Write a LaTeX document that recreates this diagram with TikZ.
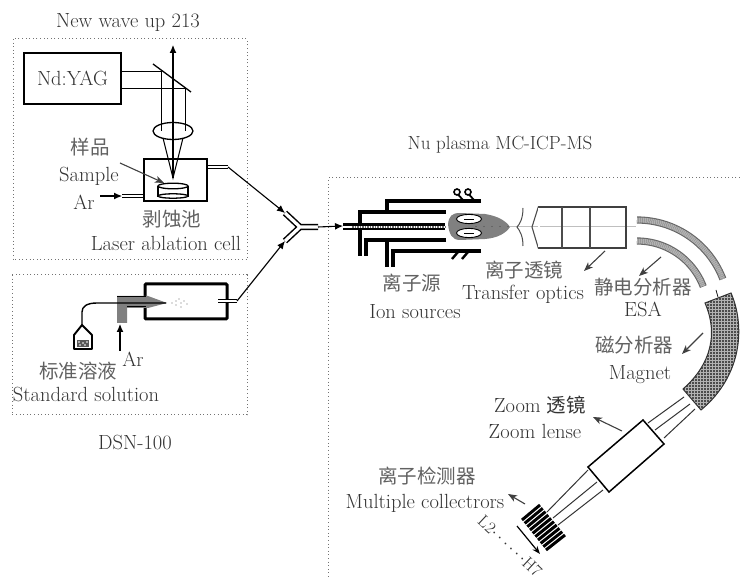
\documentclass[tikz,border=0pt]{standalone}
\usepackage{fontspec}
\newfontfamily\cjk{Noto Sans CJK SC}
\usetikzlibrary{calc,arrows.meta}

\begin{document}
\begin{tikzpicture}[x=1pt,y=-1pt,
    lbl/.style={inner sep=0pt,text=black!80,font=\fontsize{20.5}{22}\selectfont},
    cjklbl/.style={inner sep=0pt,text=black!62,font=\fontsize{19.5}{22}\selectfont\cjk},
    region/.style={draw=black!55,line width=1pt,dash pattern=on 1pt off 2.6pt},
    heavybox/.style={draw,line width=2.8pt,inner sep=0pt},
    pipe/.style={draw,double,line width=1pt,double distance=2.4pt},
    wall/.style={line width=3.8pt},
    beam/.style={line width=1pt},
    ptr/.style={black!75,line width=1.1pt,-{Stealth[length=9pt,width=7pt,inset=2.5pt]}},
    feed/.style={line width=1.1pt,-{Latex[length=8pt,width=7pt]}}]

    \useasboundingbox (0,0) rectangle (740,577);

    %==================== Dotted regions and titles ====================
    \draw[region] (13,39) rectangle (247,260);
    \draw[region] (12,275) rectangle (247,415);
    \draw[region] (740,178) -- (328,178) -- (328,577);

    \node[lbl] (titleup) at (128,23) {New wave up 213};
    \node[lbl] (titledsn) at (135,443) {DSN-100};
    \node[lbl,font=\fontsize{19}{22}\selectfont] (titlenu) at (500,145) {Nu plasma MC-ICP-MS};

    %==================== Laser ablation ====================
    \begin{scope}
      \node[heavybox,minimum width=97pt,minimum height=51pt,font=\fontsize{20.5}{22}\selectfont,text=black!80]
        (yag) at (72.5,78.5) {Nd:YAG};
      \node[heavybox,minimum width=63pt,minimum height=42pt] (cell) at (175.5,180) {};

      % Beam turned down by the mirror
      \coordinate (beamup) at (161,72);
      \coordinate (beamlow) at (185,89);
      \coordinate (top) at (173,45);
      \coordinate (focus) at (173,178);
      \draw[beam] (yag.east |- beamup) -- (beamup) -- (161,131);
      \draw[beam] (yag.east |- beamlow) -- (beamlow) -- (185,131);
      \draw[line width=1.3pt] (153,64) -- (191,92);
      \draw[feed] (focus) -- (top);
      \draw[line width=1.3pt] (173,131) ellipse (20 and 8.5);
      \draw[beam] (163,138) -- (focus) -- (183,138);

      % Sample holder
      \draw[line width=1.6pt,fill=white] (158,187) rectangle (188,196);
      \draw[line width=1.3pt,fill=white] (173,186) ellipse (15 and 2.8);
      \draw[line width=1.3pt,fill=white] (173,196) ellipse (15 and 2.2);

      % Gas in and out
      \coordinate (cellout) at (228,167);
      \coordinate (cellin) at (122,196);
      \coordinate (arcell) at (100,196);
      \draw[pipe] (cell.east |- cellout) -- (cellout);
      \draw[pipe] (cell.west |- cellin) -- (cellin);
      \draw[feed] (arcell) -- (cellin);

      \coordinate (sampletail) at (120,163);
      \coordinate (samplehead) at (164,183);
      \draw[ptr] (sampletail) -- (samplehead);

      \node[cjklbl] (samplecn) at (90,147) {样品};
      \node[lbl] (sampleen) at (89,176) {Sample};
      \node[lbl] (arone) at (84,202) {Ar};
      \node[cjklbl] (cellcn) at (172,219) {剥蚀池};
      \node[lbl] (cellen) at (166,243) {Laser ablation cell};
    \end{scope}

    %==================== Desolvating nebuliser ====================
    \begin{scope}
      \node[heavybox,rounded corners=1pt,line width=3pt,minimum width=82pt,minimum height=35pt] (dsn) at (186,301.5) {};

      % Gas tube and needle
      \fill[black!50] (117,296) -- (148,296) -- (167,303) -- (148,308) -- (127,308) -- (127,323) -- (117,323) -- cycle;
      \draw[line width=1pt] (117,297) -- (146,297) (127,307) -- (146,307);
      \coordinate (needle) at (166,303);
      \coordinate (neck) at (82,325);
      \draw[line width=1.4pt] (needle) -- (97,303) .. controls (86,303) and (82,307) .. (82,312) -- (neck);

      % Spray
      \foreach \x/\y in {172/303,176/301,179/299,181/303,184/301,187/304,181/307,176/305} {
        \fill[black!60] (\x,\y) circle (0.6);
      }

      % Bottle
      \draw[line width=1.9pt,line join=round,fill=white] (neck) -- (92,335) -- (92,349) -- (74,349) -- (74,335) -- cycle;
      \fill[black!65] (77,340) rectangle (89,347);
      \foreach \x/\y in {79/342,83/343,87/342,80/345,85/345} {
        \fill[white] (\x,\y) circle (0.9);
      }

      \coordinate (dsnout) at (237,301);
      \coordinate (argas) at (120,351);
      \coordinate (arhead) at (120,324);
      \draw[pipe] (218,301) -- (dsnout);
      \draw[feed] (argas) -- (arhead);

      \node[lbl] (artwo) at (133,359) {Ar};
      \node[cjklbl] (stdcn) at (78,371) {标准溶液};
      \node[lbl] (stden) at (86,395) {Standard solution};
    \end{scope}

    %==================== Y junction ====================
    \coordinate (yupper) at (285,213);
    \coordinate (ylower) at (285,241);
    \coordinate (yjoin) at (300,227);
    \coordinate (ystem) at (318,227);
    \coordinate (ionin) at (343,226);
    \draw[pipe,line width=1.5pt,double distance=3.2pt] (yupper) -- (yjoin) -- (ylower) (yjoin) -- (ystem);
    \draw[feed] (cellout) -- (yupper);
    \draw[feed] (dsnout) -- (ylower);
    \draw[feed] (ystem) -- (ionin);

    %==================== Ion source ====================
    \begin{scope}
      % Plasma
      \fill[black!50] (448,224) .. controls (449,216) and (452,213) .. (460,213)
        -- (485,214) .. controls (498,216) and (506,221) .. (510,227)
        .. controls (506,233) and (498,238) .. (485,239)
        -- (460,240) .. controls (452,240) and (449,234) .. (448,224) -- cycle;
      \foreach \y in {219,233} {
        \draw[line width=0.9pt,fill=white] (469,\y) ellipse (12.5 and 4.6);
        \draw[line width=0.7pt] (464,\y) -- (474,\y);
      }
      \foreach \x in {476,484,...,508} {
        \fill[black!70] (\x,226.5) circle (0.7);
      }

      % Torch walls
      \draw[wall] (446,212) -- (360,212) -- (360,256);
      \draw[wall] (446,240) -- (366,240) -- (366,256);
      \draw[wall] (481,201) -- (387,201) -- (387,212);
      \draw[wall] (387,240) -- (387,267);
      \draw[wall] (481,251) -- (393,251) -- (393,267);

      % Injector
      \draw[black,line width=7pt] (343,227) -- (445,227);
      \draw[white,line width=2.6pt] (343,227) -- (445,227);
      \draw[black!55,line width=2pt,dash pattern=on 1.5pt off 1pt] (352,227) -- (445,227);

      % Clamps
      \foreach \x in {457,468} {
        \draw[line width=1.6pt] (\x,192) circle (3);
        \draw[line width=1.8pt] (\x+1.5,195) -- (\x+6,200);
      }
      \foreach \x in {452,462} {
        \draw[line width=2.4pt] (\x,259) -- (\x+6,252);
      }

      \node[cjklbl] (ioncn) at (412,283) {离子源};
      \node[lbl] (ionen) at (415,312) {Ion sources};
    \end{scope}

    %==================== Transfer optics and ESA ====================
    \begin{scope}
      \draw[black!25,line width=1pt] (510,227) -- (636,227);

      \draw[black!70,line width=1pt] (523,208) .. controls (523,218) and (520,224) .. (517,227)
        .. controls (520,231) and (523,236) .. (523,246);
      \node[draw=black!75,line width=1.1pt,minimum width=87pt,minimum height=41pt,inner sep=0pt] (optics) at (582.5,227.5) {};
      \draw[black!70,line width=1.1pt] (optics.north west) -- (532,227) -- (optics.south west);
      \fill[white] (538.2,208) rectangle (539.8,247);
      \draw[black!70,line width=1.1pt] (562,207) -- (562,248) (590,207) -- (590,248);

      % Sector plates
      \foreach \r in {92,71} {
        \draw[black!60,line width=7.2pt] plot[domain=90:21,samples=40] ({637+\r*cos(\x)},{312-\r*sin(\x)});
        \draw[black!30,line width=5pt,dash pattern=on 1.4pt off 0.5pt] plot[domain=90:21,samples=40] ({637+\r*cos(\x)},{312-\r*sin(\x)});
      }

      \node[cjklbl] (opticscn) at (524,270) {离子透镜};
      \node[lbl] (opticsen) at (523,294) {Transfer optics};
      \node[cjklbl] (esacn) at (643,287) {静电分析器};
      \node[lbl] (esaen) at (643,309) {ESA};
    \end{scope}

    %==================== Magnet ====================
    \begin{scope}
      \coordinate (magtl) at (705,303);
      \coordinate (magtr) at (731,293);
      \coordinate (magbr) at (701,410);
      \coordinate (magbl) at (683,389);
      \draw[line width=0.7pt] (716,290) -- (718,297);
      \begin{scope}
        \clip (magtl) -- (magtr) .. controls (745,325) and (743,375) .. (magbr)
          -- (magbl) .. controls (705,370) and (721,340) .. (magtl) -- cycle;
        \fill[black!70] (680,290) rectangle (740,412);
        \foreach \x in {682,685,...,740} {
          \draw[white!70!black,line width=0.35pt] (\x,290) -- (\x,412);
        }
        \foreach \y in {291,294,...,412} {
          \draw[white!70!black,line width=0.35pt] (680,\y) -- (740,\y);
        }
      \end{scope}
      \draw[black!80,line width=1pt] (magtl) -- (magtr) .. controls (745,325) and (743,375) .. (magbr)
          -- (magbl) .. controls (705,370) and (721,340) .. (magtl) -- cycle;

      \node[cjklbl] (magcn) at (634,345) {磁分析器};
      \node[lbl] (magen) at (640,375) {Magnet};
    \end{scope}

    %==================== Zoom lens and collectors ====================
    \begin{scope}
      \coordinate (lensa) at (643,420);
      \coordinate (lensb) at (664,444);
      \coordinate (lensc) at (609,492);
      \coordinate (lensd) at (588,467);
      \draw[line width=1.5pt,fill=white] (lensa) -- (lensb) -- (lensc) -- (lensd) -- cycle;

      \foreach \xa/\ya/\xb/\yb in {648/423/684/397,655/430/690/404,664/438/695/409,588/470/547/512,597/482/553/518,603/490/558/525} {
        \draw[black!80,line width=1pt] (\xa,\ya) -- (\xb,\yb);
      }

      \coordinate (cola) at (540,505);
      \coordinate (colb) at (565,535);
      \coordinate (colc) at (522,520);
      \coordinate (cold) at (546,550);
      \foreach \i in {0,...,9} {
        \draw[line width=3pt] ($(cola)!\i/9!(colb)$) -- ($(colc)!\i/9!(cold)$);
      }

      \coordinate (rangea) at (517,526);
      \coordinate (rangeb) at (540,554);
      \draw[line width=1.2pt,-{Stealth[length=8pt,width=6pt]}] (rangea) -- (rangeb);

      \node[lbl,rotate=-43,font=\fontsize{17}{18}\selectfont] (rangelbl) at (510,546) {L2$\cdots\cdots$H7};
      \node[lbl] (zoomcn) at (540,405) {Zoom {\cjk\fontsize{19.5}{22}\selectfont 透镜}};
      \node[lbl] (zoomen) at (535,431) {Zoom lense};
      \node[cjklbl] (detcn) at (427,476) {离子检测器};
      \node[lbl] (deten) at (425,503) {Multiple collectrors};
    \end{scope}

    %==================== Label arrows ====================
    \foreach \n/\xa/\ya/\xb/\yb in {optics/605/251/584/271,esa/661/257/639/276,mag/703/333/682/354,zoom/622/431/593/417,det/525/504/508/494} {
      \coordinate (\n tail) at (\xa,\ya);
      \coordinate (\n head) at (\xb,\yb);
      \draw[ptr] (\n tail) -- (\n head);
    }

  \end{tikzpicture}
\end{document}
